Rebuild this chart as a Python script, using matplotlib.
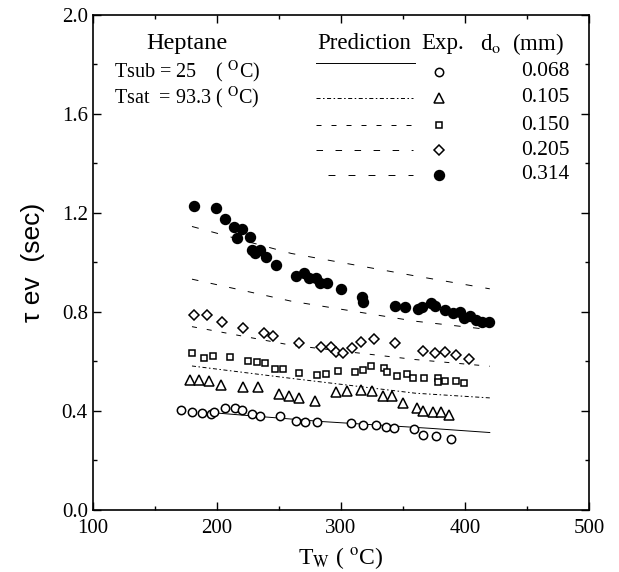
import matplotlib
matplotlib.use("Agg")
import matplotlib.pyplot as plt
from matplotlib.ticker import MultipleLocator

plt.rcParams["font.family"] = ["Liberation Serif", "DejaVu Serif"]
plt.rcParams["mathtext.fontset"] = "stix"
plt.rcParams["lines.scale_dashes"] = False

# experimental data, d0 = 0.068 mm (open circles)
t_068 = [171, 180, 188, 195, 198, 207, 215, 220, 228, 235, 251, 264, 271, 281,
         308, 318, 328, 336, 343, 359, 366, 377, 389]
tau_068 = [0.403, 0.396, 0.391, 0.387, 0.397, 0.413, 0.411, 0.405, 0.387, 0.379,
           0.379, 0.360, 0.354, 0.354, 0.349, 0.344, 0.344, 0.333, 0.330, 0.328,
           0.303, 0.299, 0.286]

# d0 = 0.105 mm (triangles)
t_105 = [178, 186, 194, 203, 221, 233, 250, 258, 266, 279, 296, 305, 316, 325,
         334, 341, 350, 361, 366, 374, 381, 387]
tau_105 = [0.526, 0.526, 0.521, 0.504, 0.498, 0.495, 0.468, 0.458, 0.452, 0.440,
           0.476, 0.480, 0.484, 0.480, 0.458, 0.461, 0.431, 0.410, 0.398, 0.394,
           0.394, 0.382]

# d0 = 0.150 mm (squares)
t_150 = [180, 190, 197, 211, 225, 232, 239, 247, 253, 266, 281, 288, 298, 311,
         318, 324, 335, 337, 345, 353, 358, 367, 378, 378, 384, 393, 399]
tau_150 = [0.632, 0.612, 0.621, 0.616, 0.602, 0.597, 0.592, 0.570, 0.567, 0.551,
           0.544, 0.548, 0.561, 0.558, 0.563, 0.580, 0.571, 0.555, 0.542, 0.550,
           0.534, 0.531, 0.531, 0.517, 0.521, 0.520, 0.512]

# d0 = 0.205 mm (diamonds)
t_205 = [182, 192, 204, 221, 238, 245, 266, 284, 292, 296, 302, 309, 316, 327,
         344, 366, 376, 384, 393, 403]
tau_205 = [0.789, 0.787, 0.760, 0.733, 0.713, 0.702, 0.672, 0.657, 0.656, 0.638,
           0.632, 0.654, 0.677, 0.689, 0.672, 0.642, 0.632, 0.636, 0.625, 0.608]

# d0 = 0.314 mm (filled circles)
t_314 = [182, 199, 207, 214, 216, 220, 227, 228, 231, 235, 240, 248, 264, 270,
         274, 280, 283, 289, 300, 317, 318, 344, 352, 362, 365, 373, 376, 384,
         390, 396, 399, 404, 409, 414, 419]
tau_314 = [1.228, 1.220, 1.175, 1.142, 1.098, 1.135, 1.101, 1.049, 1.036, 1.049,
           1.022, 0.990, 0.945, 0.955, 0.935, 0.937, 0.915, 0.917, 0.892, 0.858,
           0.838, 0.824, 0.818, 0.810, 0.821, 0.834, 0.824, 0.809, 0.795, 0.800,
           0.775, 0.782, 0.765, 0.760, 0.757]

# model predictions
tp = [180, 260, 360, 420]
pred_314 = [1.145, 1.036, 0.945, 0.893]
pred_205 = [0.932, 0.843, 0.762, 0.728]
pred_150 = [0.740, 0.665, 0.607, 0.580]
pred_105 = [0.581, 0.531, 0.471, 0.452]
tp_068 = [197, 286, 372, 420]
pred_068 = [0.392, 0.356, 0.329, 0.312]

diameters = ["0.068", "0.105", "0.150", "0.205", "0.314"]

fig = plt.figure(figsize=(6.19, 5.72), dpi=100)
ax = fig.add_axes([0.1498, 0.1089, 0.8018, 0.8649])

lw = 0.7
styles = {
    "0.068": dict(ls="-"),
    "0.105": dict(dashes=[2.9, 1.8, 1.1, 1.8]),
    "0.150": dict(dashes=[3.6, 7.2]),
    "0.205": dict(dashes=[4.7, 9.0]),
    "0.314": dict(dashes=[5.0, 9.4]),
}
mk = {
    "0.068": dict(marker="o", ms=6.0, mfc="white", mec="black", mew=1.1),
    "0.105": dict(marker="^", ms=6.5, mfc="white", mec="black", mew=1.1),
    "0.150": dict(marker="s", ms=5.0, mfc="white", mec="black", mew=1.1),
    "0.205": dict(marker="D", ms=5.5, mfc="white", mec="black", mew=1.1),
    "0.314": dict(marker="o", ms=7.2, mfc="black", mec="black", mew=1.0),
}

ax.plot(tp_068, pred_068, color="black", lw=lw, **styles["0.068"])
ax.plot(tp, pred_105, color="black", lw=lw, **styles["0.105"])
ax.plot(tp, pred_150, color="black", lw=lw, **styles["0.150"])
ax.plot(tp, pred_205, color="black", lw=lw, **styles["0.205"])
ax.plot(tp, pred_314, color="black", lw=lw, **styles["0.314"])

ax.plot(t_068, tau_068, ls="none", **mk["0.068"])
ax.plot(t_105, tau_105, ls="none", **mk["0.105"])
ax.plot(t_150, tau_150, ls="none", **mk["0.150"])
ax.plot(t_205, tau_205, ls="none", **mk["0.205"])
ax.plot(t_314, tau_314, ls="none", **mk["0.314"])

ax.set_xlim(100, 500)
ax.set_ylim(0, 2.0)
ax.xaxis.set_major_locator(MultipleLocator(100))
ax.xaxis.set_minor_locator(MultipleLocator(50))
ax.yaxis.set_major_locator(MultipleLocator(0.4))
ax.yaxis.set_minor_locator(MultipleLocator(0.2))
ax.yaxis.set_major_formatter(plt.FormatStrFormatter("%.1f"))
ax.tick_params(which="both", direction="in", top=True, right=True, labelsize=15)
ax.tick_params(which="major", length=6, width=1.0)
ax.tick_params(which="minor", length=3, width=1.0)
ax.tick_params(axis="x", which="major", pad=7)
for s in ax.spines.values():
    s.set_linewidth(1.2)

ax.set_xlabel(r"T$_{\rm W}$ ( $^{\rm o}$C)", fontsize=17, labelpad=5)
ax.set_ylabel("\u03c4 ev  (sec)", family=["Liberation Sans", "DejaVu Sans"],
              fontsize=19, labelpad=12)

# annotation block
tr = ax.transAxes
ax.text(0.189, 0.942, "Heptane", transform=tr, ha="center", va="center", fontsize=17.5)
ax.text(0.043, 0.885, r"Tsub = 25    ( $^{\rm O}$C)", transform=tr, ha="left",
        va="center", fontsize=14.5)
ax.text(0.043, 0.833, r"Tsat  = 93.3 ( $^{\rm O}$C)", transform=tr, ha="left",
        va="center", fontsize=14.5)

# hand-made legend
ax.text(0.548, 0.942, "Prediction", transform=tr, ha="center", va="center", fontsize=16.5)
ax.text(0.7045, 0.942, "Exp.", transform=tr, ha="center", va="center", fontsize=16.5)
ax.text(0.78, 0.942, r"d$_{\rm o}$  (mm)", transform=tr, ha="left", va="center", fontsize=16.5)
ax.plot([0.45, 0.649], [0.902, 0.902], transform=tr, color="black", lw=lw)

rows = [0.885, 0.833, 0.777, 0.7265, 0.6775]
for d, yr in zip(diameters, rows):
    if d != "0.068":
        x0 = 0.474 if d == "0.314" else 0.45
        ax.plot([x0, 0.645], [yr, yr], transform=tr, color="black", lw=lw, **styles[d])
    ax.plot([0.698], [yr], transform=tr, ls="none", **mk[d])
    ax.text(0.961, yr, d, transform=tr, ha="right", va="center", fontsize=15.5)

fig.savefig("out.png", dpi=100)
